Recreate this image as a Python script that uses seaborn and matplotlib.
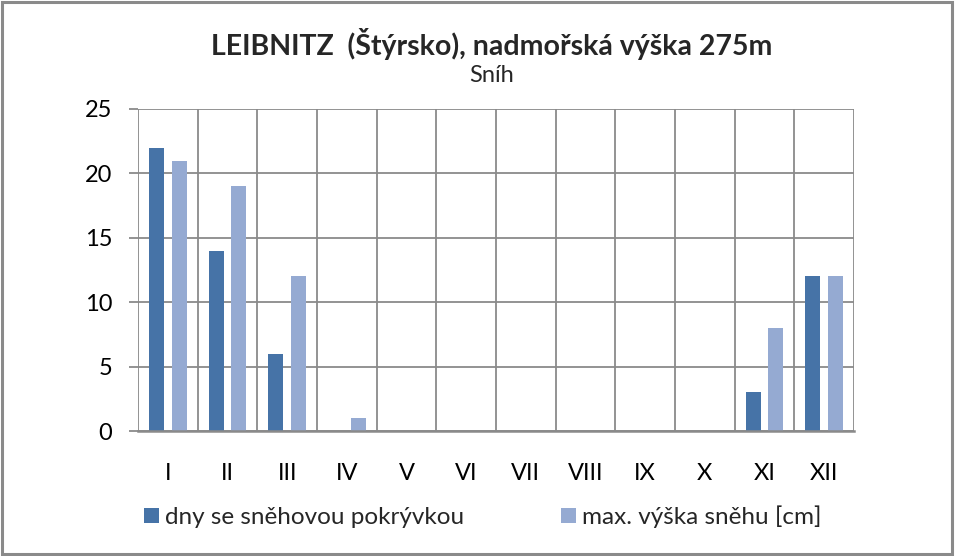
import matplotlib
matplotlib.use("Agg")
import matplotlib.pyplot as plt
import seaborn as sns
import pandas as pd
from matplotlib.patches import Rectangle

months = ["I", "II", "III", "IV", "V", "VI", "VII", "VIII", "IX", "X", "XI", "XII"]
snow_days = [22, 14, 6, 0, 0, 0, 0, 0, 0, 0, 3, 12]
max_depth = [21, 19, 12, 1, 0, 0, 0, 0, 0, 0, 8, 12]
series_names = ["dny se sněhovou pokrývkou", "max. výška sněhu [cm]"]
colors = ["#4673A7", "#95AAD2"]

df = pd.DataFrame({
    "month": months * 2,
    "value": snow_days + max_depth,
    "series": [series_names[0]] * len(months) + [series_names[1]] * len(months),
})

sns.set_theme(style="white")
plt.rcParams["font.family"] = ["Lato", "DejaVu Sans"]

fig = plt.figure(figsize=(9.56, 5.56), dpi=100)
ax = fig.add_axes([0.1444, 0.2248, 0.7489, 0.5792])

sns.barplot(data=df, x="month", y="value", hue="series", order=months,
            hue_order=series_names, palette=colors, width=0.76, gap=0.34,
            linewidth=0, saturation=1, ax=ax, legend=True)

grid_c = "#8A8A8A"
ax.set_xlim(-0.5, 11.5)
ax.set_ylim(0, 25)
ax.set_yticks([0, 5, 10, 15, 20, 25])
ax.set_xticks([i - 0.5 for i in range(13)], minor=True)
ax.grid(True, axis="y", which="major", color=grid_c, lw=1.3)
ax.grid(True, axis="x", which="minor", color=grid_c, lw=1.3)
ax.set_axisbelow(True)
for s in ["top", "right", "left"]:
    ax.spines[s].set_visible(False)
ax.spines["bottom"].set_color(grid_c)
ax.spines["bottom"].set_linewidth(1.8)
ax.tick_params(axis="y", which="major", left=True, length=6.5, width=1.3,
               color=grid_c, pad=12, labelsize=17, labelcolor="black")
ax.tick_params(axis="x", which="major", bottom=False, pad=17,
               labelsize=17, labelcolor="black")
ax.tick_params(axis="x", which="minor", bottom=False)
ax.set_xlabel("")
ax.set_ylabel("")

leg = ax.legend(loc="center left", bbox_to_anchor=(144 / 956, 0.071),
                bbox_transform=fig.transFigure, ncol=2, frameon=False,
                fontsize=17.5, handlelength=0.6, handleheight=0.6,
                handletextpad=0.25, columnspacing=4.0,
                borderpad=0, borderaxespad=0)

fig.text(0.514, 0.921, "LEIBNITZ  (Štýrsko), nadmořská výška 275m",
         ha="center", va="center", fontsize=20.5, fontweight="bold")
fig.text(0.514, 0.864, "Sníh", ha="center", va="center", fontsize=17)

fig.patches.append(Rectangle((0.002, 0.003), 0.994, 0.993, transform=fig.transFigure,
                             fill=False, edgecolor="#8A8A8A", lw=2.2))

fig.savefig("out.png", dpi=100)
